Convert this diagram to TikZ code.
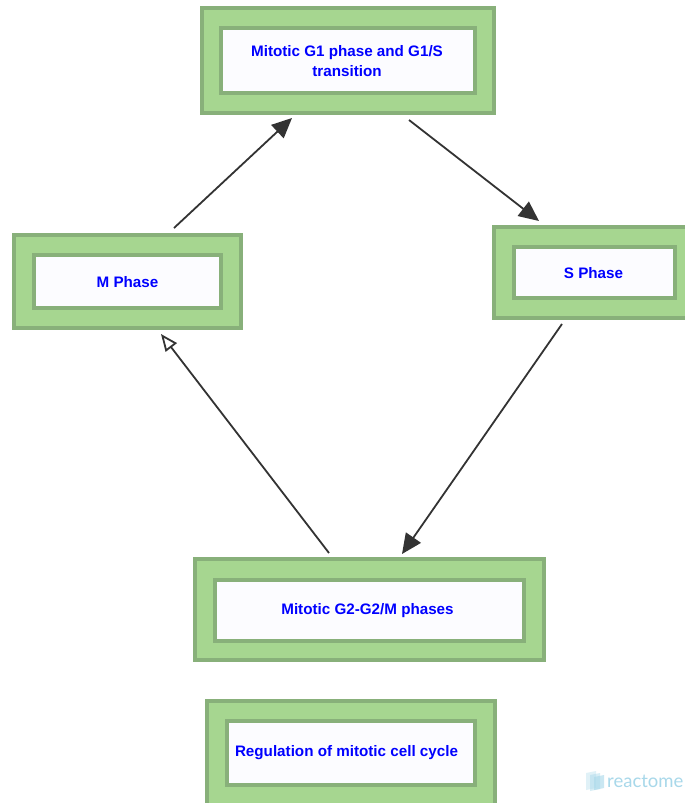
\documentclass[tikz,border=0pt]{standalone}
\usepackage{fontspec}
\setmainfont{Liberation Sans}
\newfontfamily\logofont{Lato}
\usetikzlibrary{arrows.meta}
\definecolor{outerfill}{HTML}{A6D690}
\definecolor{bordergreen}{HTML}{88B07A}
\definecolor{innerfill}{HTML}{FCFCFF}
\definecolor{arrowgray}{HTML}{333333}
\definecolor{logoblue}{HTML}{A8D8EA}
\definecolor{labelblue}{HTML}{0000FF}
\begin{document}
\begin{tikzpicture}[x=1pt,y=-1pt,
  outerbox/.style 2 args={draw=bordergreen,fill=outerfill,line width=4pt,inner sep=0pt,
    minimum width=#1,minimum height=#2,rectangle},
  innerbox/.style 2 args={draw=bordergreen,fill=innerfill,line width=4pt,inner sep=0pt,
    minimum width=#1,minimum height=#2,rectangle},
  label/.style={text=labelblue,font=\bfseries\fontsize{15.2}{20}\selectfont,align=center,inner sep=0pt},
  link/.style={draw=arrowgray,line width=1.8pt,-{Triangle[length=20pt,width=18pt]}},
  openlink/.style={draw=arrowgray,line width=1.8pt,-{Triangle[open,length=17pt,width=14pt,fill=white]}}]
\useasboundingbox (0,0) rectangle (685,803);
\fill[white] (0,0) rectangle (685,803);

% G1
\node[outerbox={292pt}{105pt}] (g1o) at (348,60.5) {};
\node[innerbox={254pt}{65pt}] (g1i) at (348,60.5) {};
\node[label] (g1t) at (347,61.5) {Mitotic G1 phase and G1/S\\transition};

% M
\node[outerbox={227pt}{93pt}] (mo) at (127.5,281.5) {};
\node[innerbox={187pt}{53pt}] (mi) at (127.5,281.5) {};
\node[label] (mt) at (127.5,282) {M Phase};

% S
\node[outerbox={201pt}{91pt}] (so) at (594.5,272.5) {};
\node[innerbox={161pt}{51pt}] (si) at (594.5,272.5) {};
\node[label] (st) at (593.5,273) {S Phase};

% G2
\node[outerbox={349pt}{101pt}] (g2o) at (369.5,609.5) {};
\node[innerbox={309pt}{61pt}] (g2i) at (369.5,610.5) {};
\node[label] (g2t) at (367.5,611) {Mitotic G2-G2/M phases};

% Regulation
\node[outerbox={288pt}{104pt}] (ro) at (351,753) {};
\node[innerbox={248pt}{64pt}] (ri) at (351,753) {};
\node[label] (rt) at (346.5,753) {Regulation of mitotic cell cycle};

% connector ends
\coordinate (a1s) at (174,228);
\coordinate (a1e) at (292,118);
\coordinate (a2s) at (409,120);
\coordinate (a2e) at (539,221);
\coordinate (a3s) at (562,324);
\coordinate (a3e) at (402,554);
\coordinate (a4s) at (329,553);
\coordinate (a4e) at (161,334);

\draw[link] (a1s) -- (a1e);
\draw[link] (a2s) -- (a2e);
\draw[link] (a3s) -- (a3e);
\draw[openlink] (a4s) -- (a4e);

% logo
\begin{scope}[logoblue]
\fill[opacity=0.35] (586,773) -- (596,771) -- (596,788) -- (586,790) -- cycle;
\fill[opacity=0.45] (590,775) -- (600,773) -- (600,789) -- (590,791) -- cycle;
\fill[opacity=0.6] (594,777) -- (604,775) -- (604,788) -- (594,790) -- cycle;
\end{scope}
\node[text=logoblue,font=\logofont\fontsize{18.5}{18.5}\selectfont,inner sep=0pt,anchor=west] (logo) at (607,781) {reactome};
\end{tikzpicture}
\end{document}
